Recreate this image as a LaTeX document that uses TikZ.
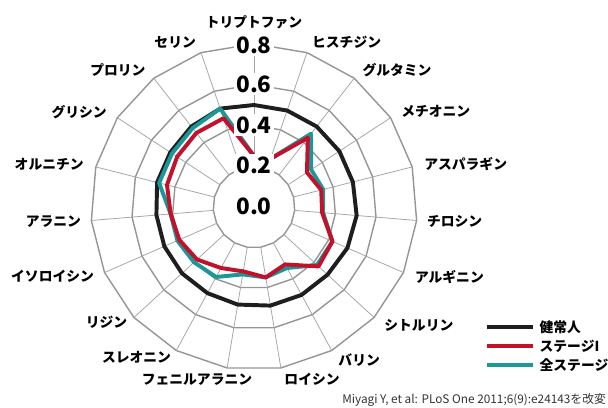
\documentclass[tikz,border=0pt]{standalone}
\usepackage{fontspec}
\setmainfont{Noto Sans CJK JP}
\usepackage{tikz}

\definecolor{healthyc}{HTML}{1E1E1E}
\definecolor{stageonec}{HTML}{C3112B}
\definecolor{allstagec}{HTML}{1B9798}
\definecolor{gridc}{HTML}{959595}
\def\rscale{204}

\begin{document}
\begin{tikzpicture}[x=0.025cm,y=0.025cm,
    ring/.style={draw=gridc,line width=1pt},
    spoke/.style={draw=gridc!85,line width=0.55pt},
    series/.style={line width=2.8pt,line join=round},
    lbl/.style={font=\fontsize{9.8}{11}\selectfont\bfseries,inner sep=1pt},
    tick/.style={font=\fontsize{16}{17}\selectfont\bfseries,fill=white,inner sep=2pt}]
    \useasboundingbox (-254,-201) rectangle (354,207);
    % grid
    \foreach \v in {0.2,0.4,0.6,0.8}
        \draw[ring] (90:\v*\rscale) \foreach \k in {1,...,18} { -- (90-\k*360/19:\v*\rscale)} -- cycle;
    \foreach \k in {0,...,18}
        \draw[spoke] (90-\k*360/19:0.2*\rscale) -- (90-\k*360/19:0.8*\rscale);
    % data
    \draw[series,healthyc] (90:0.50*\rscale) \foreach \v [count=\k] in
        {0.50,0.50,0.50,0.50,0.505,0.50,0.49,0.49,0.49,0.485,0.48,0.48,0.48,0.48,0.49,0.49,0.50,0.51}
        { -- (90-\k*360/19:\v*\rscale)} -- cycle;
    \draw[series,allstagec] (90:0.25*\rscale) \foreach \v [count=\k] in
        {0.25,0.455,0.335,0.35,0.34,0.42,0.42,0.34,0.35,0.335,0.39,0.40,0.41,0.41,0.48,0.48,0.49,0.51}
        { -- (90-\k*360/19:\v*\rscale)} -- cycle;
    \draw[series,stageonec] (90:0.25*\rscale) \foreach \v [count=\k] in
        {0.25,0.43,0.31,0.34,0.335,0.42,0.43,0.32,0.35,0.32,0.34,0.38,0.40,0.41,0.44,0.45,0.46,0.46}
        { -- (90-\k*360/19:\v*\rscale)} -- cycle;
    % scale
    \node[tick] (t0) at (0,1) {0.0};
    \node[tick] (t2) at (0,42) {0.2};
    \node[tick] (t4) at (0,82) {0.4};
    \node[tick] (t6) at (0,123) {0.6};
    \node[tick] (t8) at (0,162) {0.8};
    % axis labels
    \node[lbl,anchor=south] (trp) at (90:176) {トリプトファン};
    \node[lbl,anchor=west] (his) at (90-1*360/19:174) {ヒスチジン};
    \node[lbl,anchor=west] (gln) at (90-2*360/19:174) {グルタミン};
    \node[lbl,anchor=west] (met) at (90-3*360/19:174) {メチオニン};
    \node[lbl,anchor=west] (asn) at (90-4*360/19:174) {アスパラギン};
    \node[lbl,anchor=west] (tyr) at (90-5*360/19:172) {チロシン};
    \node[lbl,anchor=west] (arg) at (90-6*360/19:174) {アルギニン};
    \node[lbl,anchor=west] (cit) at (90-7*360/19:175) {シトルリン};
    \node[lbl,anchor=west] (val) at (90-8*360/19:174) {バリン};
    \node[lbl,anchor=west] (leu) at (90-9*360/19:175) {ロイシン};
    \node[lbl] (phe) at (-57,-173) {フェニルアラニン};
    \node[lbl,anchor=east] (thr) at (90-11*360/19:171) {スレオニン};
    \node[lbl,anchor=east] (lys) at (90-12*360/19:170) {リジン};
    \node[lbl,anchor=east] (ile) at (90-13*360/19:173) {イソロイシン};
    \node[lbl,anchor=east] (ala) at (90-14*360/19:172) {アラニン};
    \node[lbl,anchor=east] (orn) at (90-15*360/19:174) {オルニチン};
    \node[lbl,anchor=east] (gly) at (90-16*360/19:174) {グリシン};
    \node[lbl,anchor=east] (pro) at (90-17*360/19:174) {プロリン};
    \node[lbl,anchor=east] (ser) at (90-18*360/19:174) {セリン};
    % legend
    \coordinate (k1a) at (233,-120);
    \coordinate (k1b) at (279,-120);
    \coordinate (k2a) at (233,-139);
    \coordinate (k2b) at (279,-139);
    \coordinate (k3a) at (233,-158);
    \coordinate (k3b) at (279,-158);
    \draw[series,healthyc] (k1a) -- (k1b);
    \draw[series,stageonec] (k2a) -- (k2b);
    \draw[series,allstagec] (k3a) -- (k3b);
    \node[lbl,anchor=west] (healthy) at (284,-120) {健常人};
    \node[lbl,anchor=west] (stageone) at (284,-139) {ステージI};
    \node[lbl,anchor=west] (allstage) at (284,-158) {全ステージ};
    % source
    \node[anchor=west,inner sep=0pt,font=\fontsize{8.4}{9}\selectfont,text=black!80] (src) at (88,-193)
        {Miyagi Y, et al: PLoS One 2011;6(9):e24143を改変};
\end{tikzpicture}
\end{document}
